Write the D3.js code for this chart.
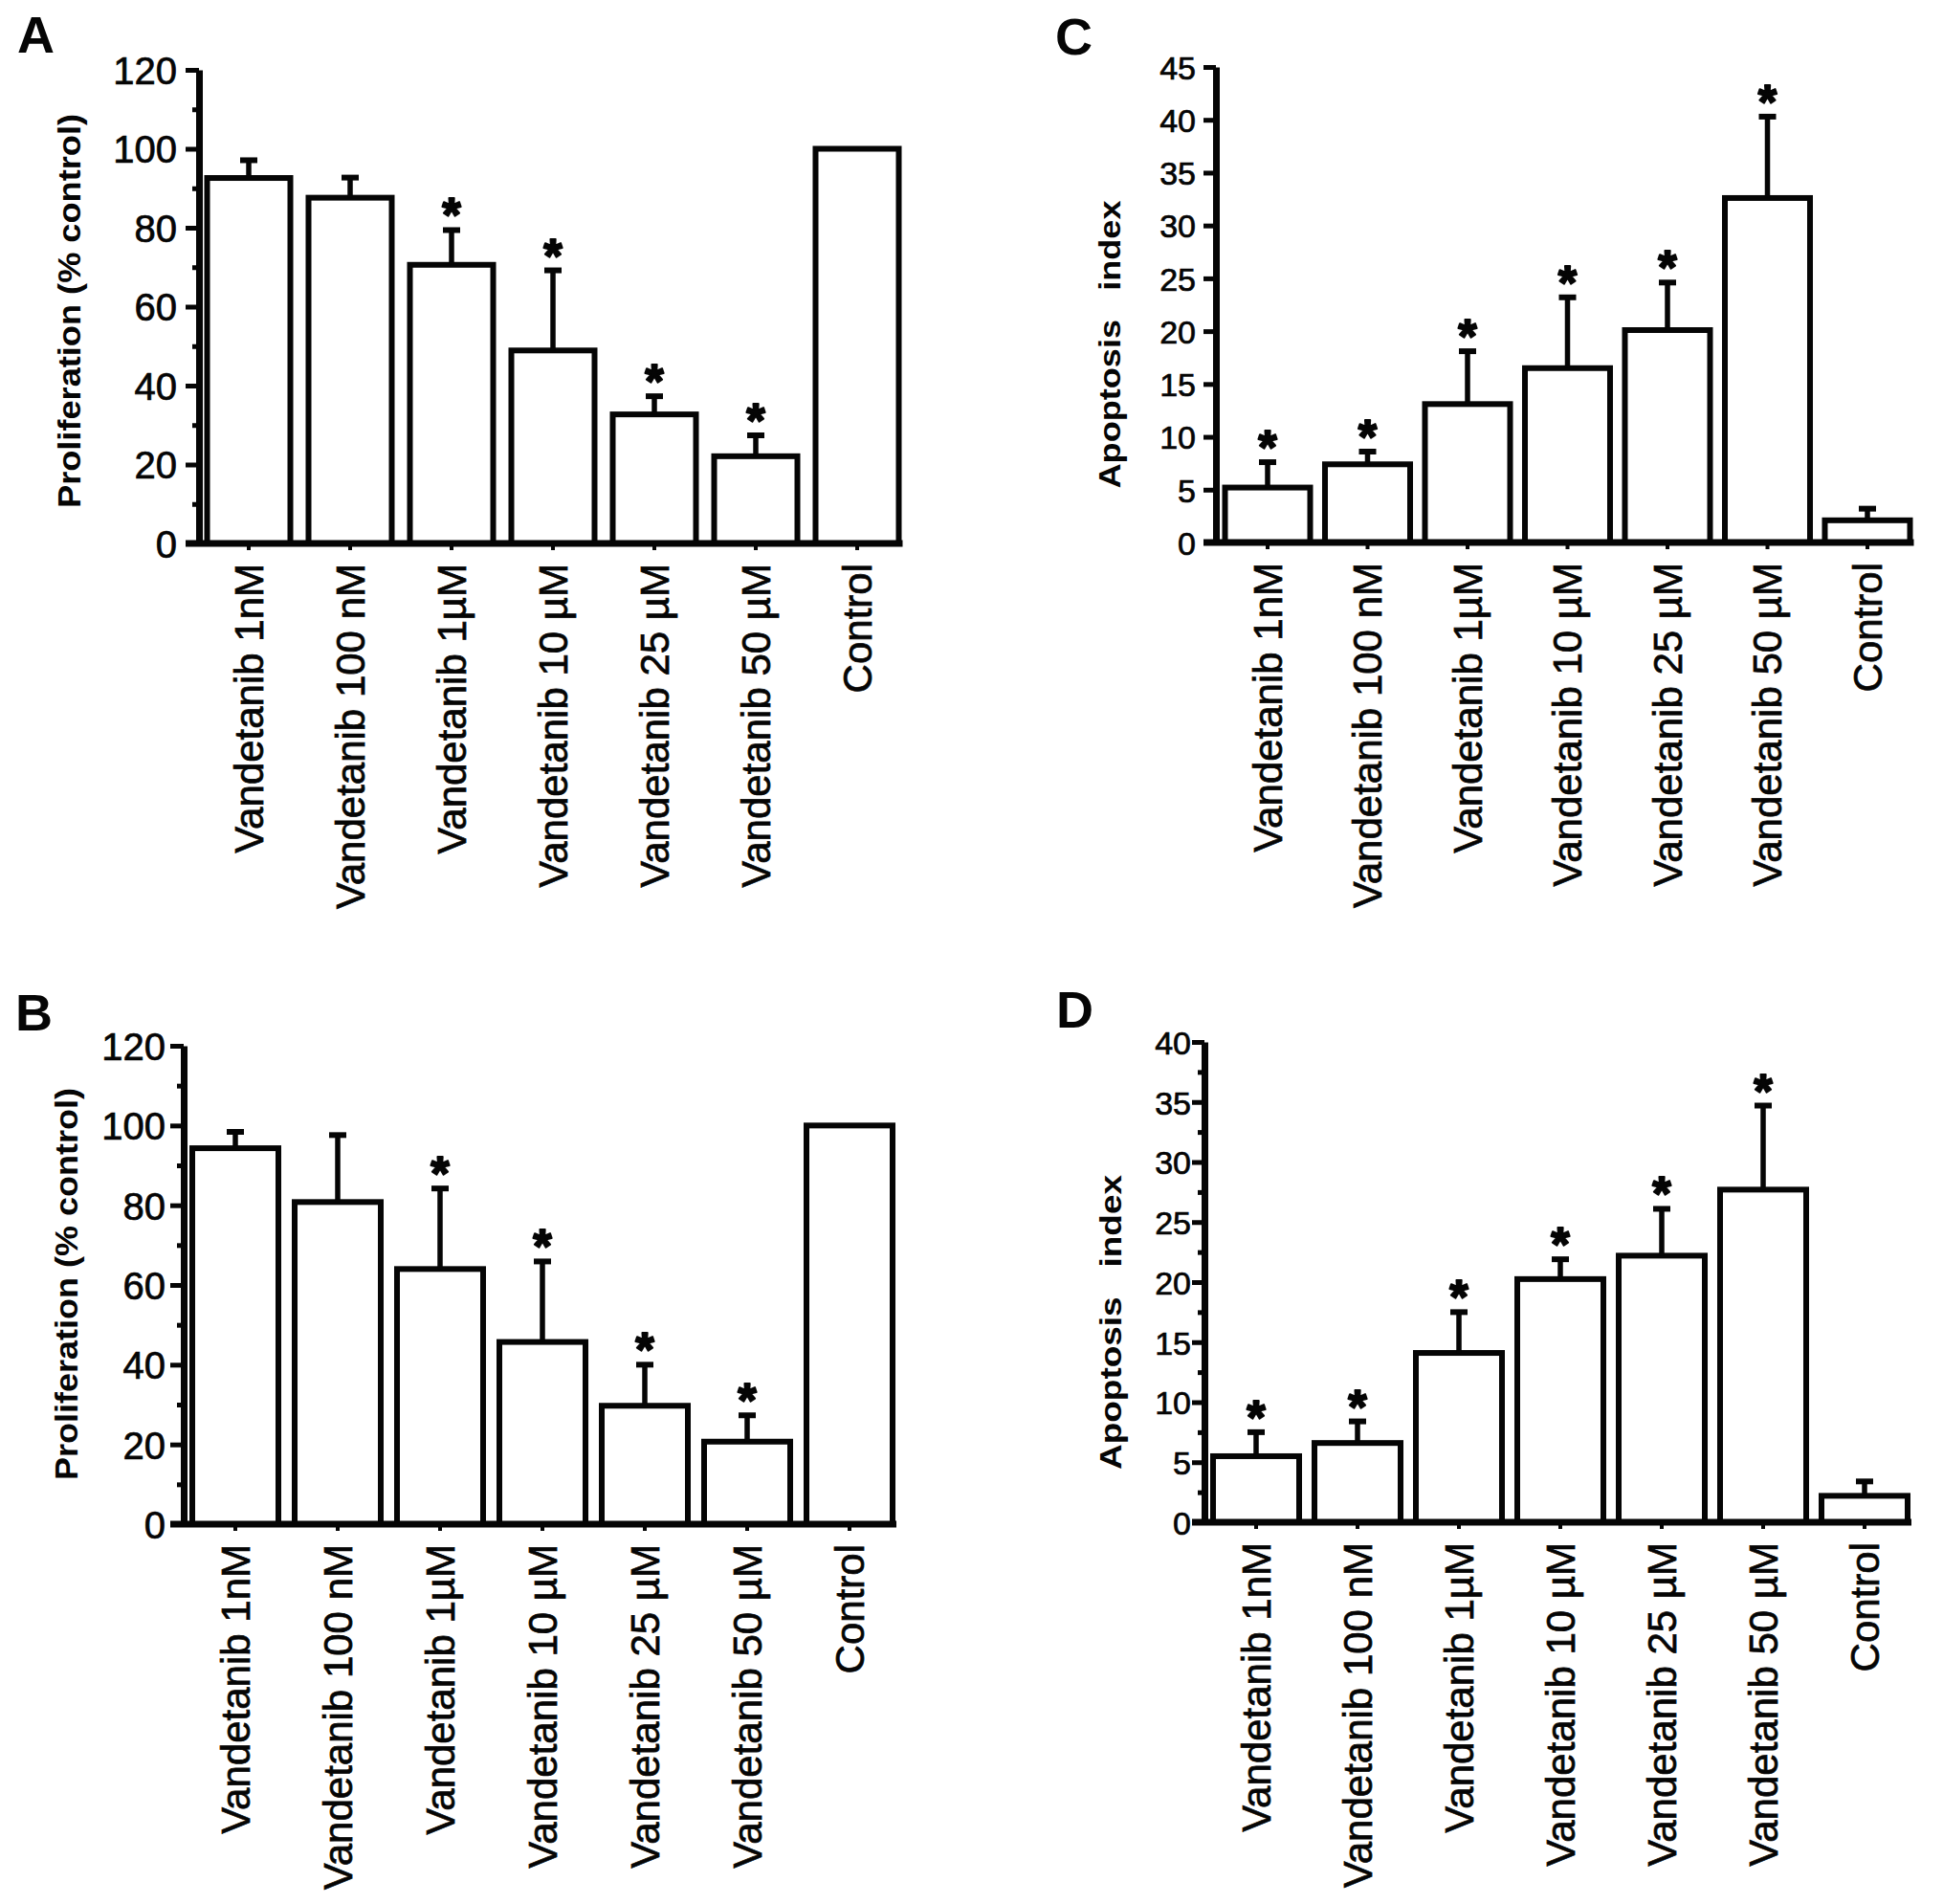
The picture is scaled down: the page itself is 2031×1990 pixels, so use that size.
<!DOCTYPE html>
<html>
<head>
<meta charset="utf-8">
<script src="https://cdn.jsdelivr.net/npm/d3@7"></script>
<style>
  body { margin: 0; background: #fff; }
  text { font-family: "Liberation Sans", Arial, sans-serif; }
</style>
</head>
<body>
<div id="figure"></div>
<script>
'use strict';

// categories shared by all four panels
const categories = ['Vandetanib 1nM', 'Vandetanib 100 nM', 'Vandetanib 1µM', 'Vandetanib 10 µM',
    'Vandetanib 25 µM', 'Vandetanib 50 µM', 'Control'];

// panel A - proliferation
const prolifAMean = [92.6, 87.6, 70.6, 48.9, 32.7, 22.1, 100];
const prolifAErr = [4.5, 5.1, 8.8, 20.3, 4.6, 5.3, 0];
// panel B - proliferation
const prolifBMean = [94.3, 80.8, 64.0, 45.7, 29.7, 20.7, 100];
const prolifBErr = [4.1, 16.8, 20.2, 20.2, 10.3, 6.6, 0];
// panel C - apoptosis
const apopCMean = [5.2, 7.4, 13.1, 16.5, 20.1, 32.6, 2.1];
const apopCErr = [2.4, 1.2, 5.0, 6.7, 4.5, 7.7, 1.1];
// panel D - apoptosis
const apopDMean = [5.5, 6.6, 14.1, 20.25, 22.2, 27.7, 2.2];
const apopDErr = [2.0, 1.8, 3.4, 1.65, 3.9, 7.0, 1.2];

// significance markers
const starsProlif = [false, false, true, true, true, true, false];
const starsApop = [true, true, true, true, true, true, false];

// tick values
const prolifTicks = [0, 20, 40, 60, 80, 100, 120];
const prolifMinor = [10, 30, 50, 70, 90, 110];
const apopCTicks = [0, 5, 10, 15, 20, 25, 30, 35, 40, 45];
const apopDTicks = [0, 5, 10, 15, 20, 25, 30, 35, 40];
const apopDMinor = [2.5, 7.5, 12.5, 17.5, 22.5, 27.5, 32.5, 37.5];

const prolifTitle = 'Proliferation (% control)';
const apopTitle = 'Apoptosis   index';

const panels = [
    { letter: 'A', mean: prolifAMean, err: prolifAErr, stars: starsProlif, yMax: 120,
      ticks: prolifTicks, minor: prolifMinor, title: prolifTitle,
      axisX: 208, y0: 568, yTop: 73, firstCenter: 260, step: 106, barW: 87,
      tickFont: 40, tickPad: 9, majorLen: 14,
      titleX: 84, titleCy: 325, titleLen: 412, titleFont: 34, letterX: 18, letterY: 55 },
    { letter: 'B', mean: prolifBMean, err: prolifBErr, stars: starsProlif, yMax: 120,
      ticks: prolifTicks, minor: prolifMinor, title: prolifTitle,
      axisX: 192, y0: 1593, yTop: 1093, firstCenter: 246, step: 107, barW: 90,
      tickFont: 40, tickPad: 5, majorLen: 14,
      titleX: 81, titleCy: 1342, titleLen: 410, titleFont: 34, letterX: 16, letterY: 1077 },
    { letter: 'C', mean: apopCMean, err: apopCErr, stars: starsApop, yMax: 45,
      ticks: apopCTicks, minor: [], title: apopTitle,
      axisX: 1271, y0: 567, yTop: 70, firstCenter: 1325, step: 104.5, barW: 89,
      tickFont: 34, tickPad: 8, majorLen: 13,
      titleX: 1171, titleCy: 360, titleLen: 301, titleFont: 32, letterX: 1103, letterY: 57 },
    { letter: 'D', mean: apopDMean, err: apopDErr, stars: starsApop, yMax: 40,
      ticks: apopDTicks, minor: apopDMinor, title: apopTitle,
      axisX: 1259, y0: 1591, yTop: 1089, firstCenter: 1313, step: 106, barW: 90,
      tickFont: 34, tickPad: 1, majorLen: 13,
      titleX: 1172, titleCy: 1382, titleLen: 308, titleFont: 32, letterX: 1104, letterY: 1074 }
];

const ink = '#050505';
const barStroke = 6;

const svg = d3.select('#figure')
    .append('svg')
    .attr('width', 2031)
    .attr('height', 1990)
    .style('display', 'block')
    .style('background', '#fff');

panels.forEach(function (p) {
    const g = svg.append('g');
    const pad = 1 - p.barW / p.step;
    const start = p.firstCenter - p.step / 2;

    const x = d3.scaleBand()
        .domain(categories)
        .range([start, start + categories.length * p.step])
        .paddingInner(pad)
        .paddingOuter(pad / 2);

    const y = d3.scaleLinear()
        .domain([0, p.yMax])
        .range([p.y0, p.yTop]);

    const rows = categories.map(function (c, i) {
        return { cat: c, mean: p.mean[i], err: p.err[i], star: p.stars[i] };
    });

    // bars
    g.selectAll('rect.bar')
        .data(rows)
        .join('rect')
        .attr('class', 'bar')
        .attr('x', function (d) { return x(d.cat); })
        .attr('y', function (d) { return y(d.mean); })
        .attr('width', x.bandwidth())
        .attr('height', function (d) { return y(0) - y(d.mean); })
        .attr('fill', '#fff')
        .attr('stroke', ink)
        .attr('stroke-width', barStroke);

    // error bars (upper only)
    const withErr = rows.filter(function (d) { return d.err > 0; });
    const cx = function (d) { return x(d.cat) + x.bandwidth() / 2; };

    g.selectAll('line.stem')
        .data(withErr)
        .join('line')
        .attr('class', 'stem')
        .attr('x1', cx).attr('x2', cx)
        .attr('y1', function (d) { return y(d.mean); })
        .attr('y2', function (d) { return y(d.mean + d.err); })
        .attr('stroke', ink)
        .attr('stroke-width', 5.5);

    g.selectAll('line.cap')
        .data(withErr)
        .join('line')
        .attr('class', 'cap')
        .attr('x1', function (d) { return cx(d) - 9; })
        .attr('x2', function (d) { return cx(d) + 9; })
        .attr('y1', function (d) { return y(d.mean + d.err); })
        .attr('y2', function (d) { return y(d.mean + d.err); })
        .attr('stroke', ink)
        .attr('stroke-width', 6);

    // asterisks
    g.selectAll('text.star')
        .data(rows.filter(function (d) { return d.star; }))
        .join('text')
        .attr('class', 'star')
        .attr('x', cx)
        .attr('y', function (d) { return y(d.mean + d.err) + 2; })
        .attr('text-anchor', 'middle')
        .attr('font-size', 50)
        .attr('font-weight', 700)
        .attr('fill', ink)
        .attr('stroke', ink)
        .attr('stroke-width', 2)
        .attr('stroke-linejoin', 'round')
        .text('*');

    // y axis
    const yAxis = g.append('g')
        .attr('transform', `translate(${p.axisX},0)`)
        .call(d3.axisLeft(y)
            .tickValues(p.ticks)
            .tickSize(p.majorLen)
            .tickSizeOuter(0)
            .tickPadding(p.tickPad)
            .tickFormat(d3.format('d')));

    yAxis.select('.domain')
        .attr('stroke', ink)
        .attr('stroke-width', 7);
    yAxis.selectAll('.tick line')
        .attr('stroke', ink)
        .attr('stroke-width', 5);
    yAxis.selectAll('.tick text')
        .attr('fill', ink)
        .attr('stroke', ink)
        .attr('stroke-width', 0.7)
        .attr('font-size', p.tickFont)
        .attr('font-family', '"Liberation Sans", Arial, sans-serif')
        .attr('dy', '0.36em');

    if (p.minor.length) {
        const minorAxis = g.append('g')
            .attr('transform', `translate(${p.axisX},0)`)
            .call(d3.axisLeft(y)
                .tickValues(p.minor)
                .tickSize(7)
                .tickSizeOuter(0)
                .tickFormat(''));
        minorAxis.select('.domain').remove();
        minorAxis.selectAll('.tick line')
            .attr('stroke', ink)
            .attr('stroke-width', 5);
    }

    // x axis: small ticks at category centres, no labels from the axis
    const xAxis = g.append('g')
        .attr('transform', `translate(0,${p.y0})`)
        .call(d3.axisBottom(x)
            .tickSize(7)
            .tickSizeOuter(0)
            .tickFormat(''));
    xAxis.select('.domain').remove();
    xAxis.selectAll('.tick line')
        .attr('stroke', ink)
        .attr('stroke-width', 4);

    const lastCat = categories[categories.length - 1];
    g.append('line')
        .attr('x1', p.axisX - p.majorLen)
        .attr('x2', x(lastCat) + x.bandwidth() + barStroke / 2 + 1)
        .attr('y1', p.y0)
        .attr('y2', p.y0)
        .attr('stroke', ink)
        .attr('stroke-width', 7);

    // rotated category labels
    g.selectAll('text.cat')
        .data(categories)
        .join('text')
        .attr('class', 'cat')
        .attr('transform', function (d) {
            return `translate(${x(d) + x.bandwidth() / 2},${p.y0 + 21}) rotate(-90)`;
        })
        .attr('dy', '0.35em')
        .attr('text-anchor', 'end')
        .attr('font-size', 42)
        .attr('fill', ink)
        .attr('stroke', ink)
        .attr('stroke-width', 0.7)
        .text(function (d) { return d; });

    // y axis title
    g.append('text')
        .attr('transform', `translate(${p.titleX},${p.titleCy}) rotate(-90)`)
        .attr('text-anchor', 'middle')
        .attr('font-size', p.titleFont)
        .attr('font-weight', 700)
        .attr('fill', ink)
        .attr('textLength', p.titleLen)
        .attr('lengthAdjust', 'spacingAndGlyphs')
        .style('white-space', 'pre')
        .text(p.title);

    // panel letter
    svg.append('text')
        .attr('x', p.letterX)
        .attr('y', p.letterY)
        .attr('font-size', 54)
        .attr('font-weight', 700)
        .attr('fill', ink)
        .text(p.letter);
});
</script>
</body>
</html>
